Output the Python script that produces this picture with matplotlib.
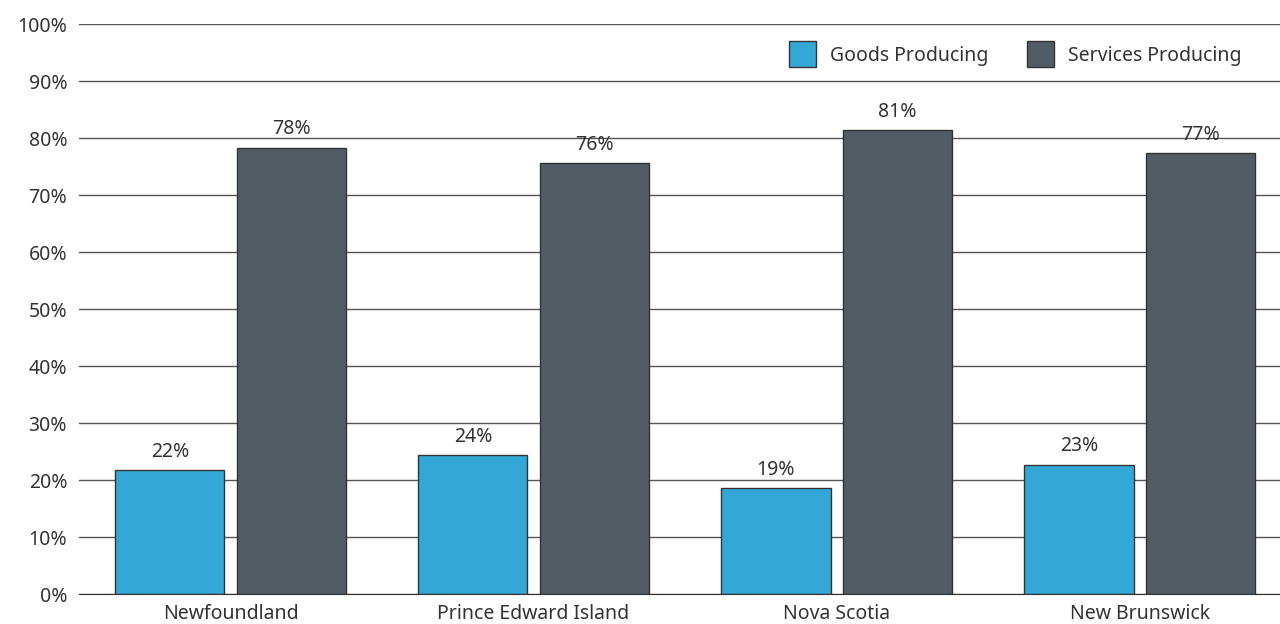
import numpy as np
from matplotlib import pyplot as plt

PROVINCES = ['Newfoundland', 'Prince Edward Island', 'Nova Scotia', 'New Brunswick']
GOODS = [21.7, 24.4, 18.6, 22.7]
SERVICES = [78.3, 75.6, 81.4, 77.3]
GOODS_LABELS = ['22%', '24%', '19%', '23%']
SERVICES_LABELS = ['78%', '76%', '81%', '77%']
Y_TICKS = [0, 10, 20, 30, 40, 50, 60, 70, 80, 90, 100]

GOODS_COLOR = '#33a8d6'
SERVICES_COLOR = '#525c64'
TEXT_COLOR = '#333333'


def main():
    plt.rcParams['font.family'] = ['Noto Sans', 'DejaVu Sans']
    fig = plt.figure(figsize=(12.8, 6.24), dpi=100)
    # axes run a little past the right edge of the figure, as in the original
    ax = fig.add_axes([0.0617, 0.048, 0.947, 0.9135])

    x = np.arange(len(PROVINCES))
    width = 0.36
    b1 = ax.bar(x - 0.2, GOODS, width, color=GOODS_COLOR, edgecolor='#333333',
                linewidth=1, label='Goods Producing', zorder=3)
    b2 = ax.bar(x + 0.2, SERVICES, width, color=SERVICES_COLOR, edgecolor='#333333',
                linewidth=1, label='Services Producing', zorder=3)

    for bars, labels in ((b1, GOODS_LABELS), (b2, SERVICES_LABELS)):
        for bar, lab in zip(bars, labels):
            ax.annotate(lab, (bar.get_x() + bar.get_width() / 2, bar.get_height()),
                        xytext=(0, 6), textcoords='offset points', ha='center',
                        va='bottom', fontsize=14, color=TEXT_COLOR)

    ax.set_xlim(-0.5, 3.5)
    ax.set_ylim(0, 100)
    ax.set_yticks(Y_TICKS)
    ax.set_yticklabels(['{}%'.format(t) for t in Y_TICKS])
    ax.set_xticks(x)
    ax.set_xticklabels(PROVINCES)
    ax.tick_params(axis='both', length=0, labelsize=14, colors=TEXT_COLOR)
    ax.tick_params(axis='y', pad=8.5)
    ax.tick_params(axis='x', pad=7)
    ax.yaxis.grid(True, color='#555555', linewidth=1, zorder=0)
    ax.set_axisbelow(True)
    for side in ('left', 'right', 'top'):
        ax.spines[side].set_visible(False)
    ax.spines['bottom'].set_color('#333333')
    ax.spines['bottom'].set_zorder(4)

    leg = ax.legend(loc='upper right', bbox_to_anchor=(0.97, 0.934),
                    bbox_transform=fig.transFigure, ncol=2, frameon=True,
                    fontsize=14, handlelength=1.4, handleheight=1.7,
                    columnspacing=2.0, handletextpad=0.7, borderpad=0,
                    borderaxespad=0)
    leg.get_frame().set_facecolor('white')
    leg.get_frame().set_edgecolor('white')
    for t in leg.get_texts():
        t.set_color(TEXT_COLOR)

    fig.savefig('out.png', dpi=100)


if __name__ == '__main__':
    main()
